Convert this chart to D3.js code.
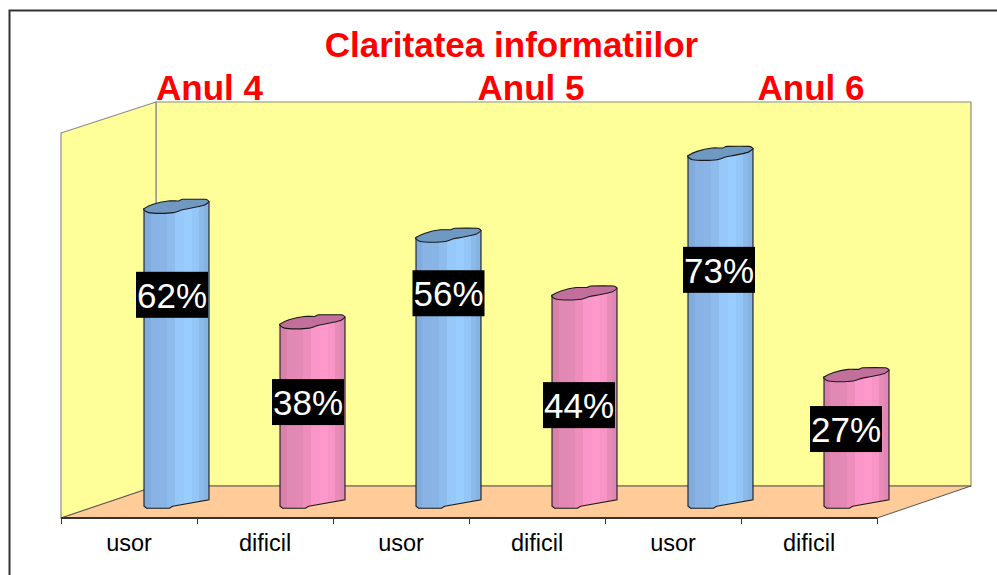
<!DOCTYPE html>
<html><head><meta charset="utf-8">
<script src="https://cdn.jsdelivr.net/npm/d3@7/dist/d3.min.js"></script>
<style>html,body{margin:0;padding:0;background:#fff}svg{display:block}text{font-family:"Liberation Sans",Arial,sans-serif}</style>
</head><body><div id="chart"></div>
<script>
const categories = ["usor","dificil","usor","dificil","usor","dificil"];
const ids = ["a4u","a4d","a5u","a5d","a6u","a6d"];
const values = [62,38,56,44,73,27];
const valueLabels = ["62%","38%","56%","44%","73%","27%"];
const years = ["Anul 4","Anul 5","Anul 6"];
const titleText = "Claritatea informatiilor";

const W=997,H=575;
const svg=d3.select("#chart").append("svg").attr("width",W).attr("height",H);
const front={x0:61,x1:877,y:518}, back={x0:156,x1:971,y:486,top:102}, leftTop=133;

const x=d3.scaleBand().domain(ids).range([front.x0,front.x1]);
const y=d3.scaleLinear().domain([0,80]).range([0,front.y-leftTop]);

const defs=svg.append("defs");
// faceted cylinder shading
const facets=[[0,.62],[.1,.72],[.25,.74],[.36,.82],[.48,.95],[.61,1],[.74,.93],[.84,.78],[.92,.7]];
function mkGrad(id,base,dark){
  const g=defs.append("linearGradient").attr("id",id);
  const c=d3.scaleLinear().domain([.6,1]).range([dark,base]);
  facets.forEach((f,i)=>{
    const col=c(f[1]);
    g.append("stop").attr("offset",f[0]).attr("stop-color",col);
    g.append("stop").attr("offset",i<facets.length-1?facets[i+1][0]:1).attr("stop-color",col);
  });
}
mkGrad("gu","#99ccff","#7fa9d8");
mkGrad("gd","#ff99cc","#d680a9");

// frame
svg.append("path").attr("d",`M${W},10.5H9.5V${H}`).attr("fill","none").attr("stroke","#333").attr("stroke-width",2);

// walls
svg.append("path").attr("d",`M${back.x0},${back.top}H${back.x1}V${back.y}H${back.x0}Z`).attr("fill","#ffff99").attr("stroke","#8c8c8c").attr("stroke-width",1.2);
svg.append("path").attr("d",`M${front.x0},${leftTop}L${back.x0},${back.top}V${back.y}L${front.x0},${front.y}Z`).attr("fill","#ffff99").attr("stroke","#8c8c8c").attr("stroke-width",1.2);
svg.append("path").attr("d",`M${front.x0},${front.y}L${back.x0},${back.y}H${back.x1}L${front.x1},${front.y}Z`).attr("fill","#ffcc99").attr("stroke","#555").attr("stroke-width",1);

// axis
const axis=d3.axisBottom(x).tickSize(0).tickFormat((d,i)=>categories[i]);
const gA=svg.append("g").attr("transform",`translate(0,${front.y})`).call(axis);
gA.select(".domain").attr("stroke","#333").attr("stroke-width",2).attr("d",`M${front.x0},0H${front.x1}`);
gA.selectAll("text").attr("font-size",23.5).attr("fill","#000").attr("y",16).attr("dy","0.71em").attr("text-anchor","middle").attr("dx",0);
gA.selectAll(".tick line").remove();
gA.selectAll(".edge").data(d3.range(ids.length+1)).join("line")
  .attr("x1",i=>front.x0+i*x.step()+.5).attr("x2",i=>front.x0+i*x.step()+.5).attr("y1",0).attr("y2",6).attr("stroke","#333");

// bars
const barOff=83,barW=65,baseY=507;
const lobe=[[0,0],[.14,-4.3],[.37,-7.7],[.53,-7.7],[.6,-9.3],[.94,-9.3],[1,-7],[.92,-3.3],[.71,-.3],[.58,1.3],[.45,4],[.25,4.7],[.07,4],[0,1.3]];
const bottom=[[0,-.7],[.04,1.3],[.39,1.3],[.44,-.7],[1,-7.3]];
const closed=d3.line().curve(d3.curveCardinalClosed.tension(.5));
const linePts=d3.line();
const scalePts=a=>a.map(p=>[p[0]*barW,p[1]]);

const gB=svg.selectAll(".bar").data(ids).join("g").attr("class","bar")
  .attr("transform",d=>`translate(${x(d)+barOff},${baseY})`);
gB.each(function(d,i){
  const s=d3.select(this),h=y(values[i]),isU=i%2===0;
  s.append("path").attr("d",`M0,${-h}`+linePts(scalePts(bottom)).replace(/^M/,"L")+`L${barW},${-h-7}Z`)
    .attr("fill",`url(#${isU?"gu":"gd"})`).attr("stroke","#1a1a1a").attr("stroke-width",1.1);
  s.append("path").attr("transform",`translate(0,${-h})`).attr("d",closed(scalePts(lobe)))
    .attr("fill",isU?"#7099c2":"#c2709b").attr("stroke","#1a1a1a").attr("stroke-width",1.1);
});

// data labels, hand placed in the reference: nudges from the bar's middle
const labelNudge=[[-4.5,-63],[-4.5,-13.5],[0,-79],[-5.5,4],[-1.5,-61.5],[-10.5,-13]];
const lab=svg.selectAll(".lab").data(ids).join("g").attr("class","lab")
  .attr("transform",(d,i)=>`translate(${x(d)+barOff+barW/2+labelNudge[i][0]},${baseY-y(values[i])/2+labelNudge[i][1]})`);
lab.append("rect").attr("x",-36).attr("y",-23).attr("width",72).attr("height",46).attr("fill","#000");
lab.append("text").text((d,i)=>valueLabels[i]).attr("text-anchor","middle").attr("y",13).attr("font-size",35).attr("fill","#fff");

// titles
const red="#ff0000";
svg.append("text").attr("x",511.5).attr("y",56.5).attr("text-anchor","middle").attr("font-size",35).attr("font-weight","bold").attr("fill",red).text(titleText);
const yearX=[209.5,531,811];
svg.selectAll(".yr").data(years).join("text").attr("class","yr").attr("x",(d,i)=>yearX[i]).attr("y",100).attr("text-anchor","middle").attr("font-size",35).attr("font-weight","bold").attr("fill",red).text(d=>d);
</script></body></html>
